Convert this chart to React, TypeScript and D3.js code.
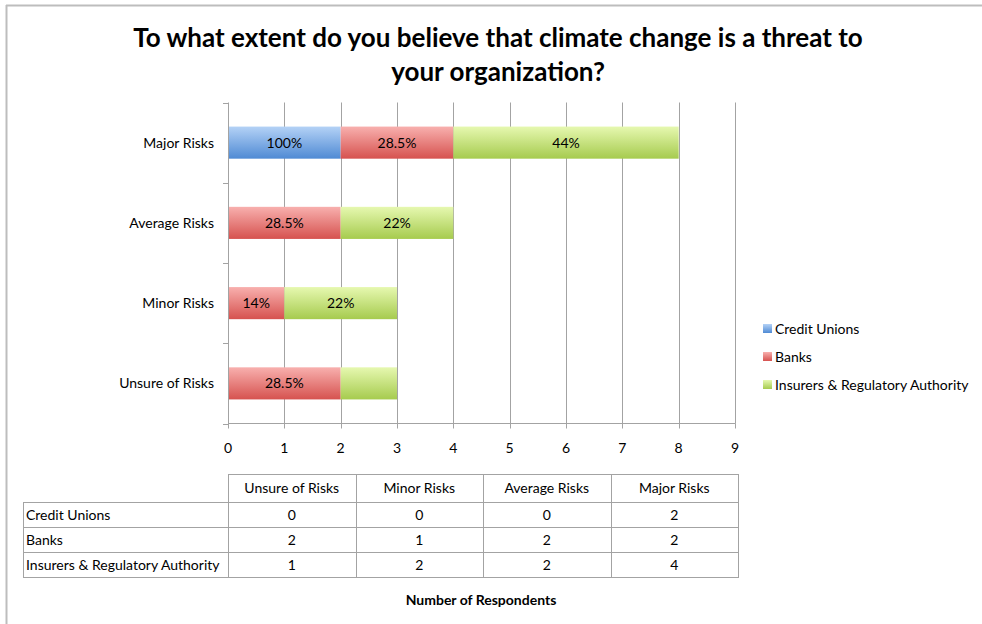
import React from "react";
import * as d3 from "d3";

const categories = ["Major Risks", "Average Risks", "Minor Risks", "Unsure of Risks"];
const tableColumns = ["Unsure of Risks", "Minor Risks", "Average Risks", "Major Risks"];
const seriesNames = ["Credit Unions", "Banks", "Insurers & Regulatory Authority"];

// respondent counts per category, in the order of `categories`
const creditUnions = [2, 0, 0, 0];
const banks = [2, 2, 1, 2];
const insurers = [4, 2, 2, 1];

// percentage labels shown inside each segment ("" = no label)
const creditUnionLabels = ["100%", "", "", ""];
const bankLabels = ["28.5%", "28.5%", "14%", "28.5%"];
const insurerLabels = ["44%", "22%", "22%", ""];

const xTicks = [0, 1, 2, 3, 4, 5, 6, 7, 8, 9];

const FONT = "Lato, 'Open Sans', sans-serif";
const FS = 14;

const palettes = [
  { top: "#b4d2f6", bottom: "#4f8ad4", id: "gBlue" },
  { top: "#f8b0ae", bottom: "#d6524f", id: "gRed" },
  { top: "#e6f8b0", bottom: "#a6cb4e", id: "gGreen" },
];

export default function App() {
  const W = 982;
  const H = 624;
  const x0 = 228;
  const x1 = 735;
  const yTop = 102.5;
  const yBottom = 423.5;

  const x = d3.scaleLinear().domain([0, 9]).range([x0, x1]);
  const y = d3.scaleBand().domain(categories).range([yTop, yBottom]).paddingInner(0.6).paddingOuter(0.3);
  const bandEdges = d3.range(categories.length + 1).map((i) => yTop + (i * (yBottom - yTop)) / categories.length);

  const series = [creditUnions, banks, insurers];
  const labels = [creditUnionLabels, bankLabels, insurerLabels];
  const rows = categories.map((c, i) => {
    const r: any = { cat: c };
    seriesNames.forEach((s, k) => (r[s] = series[k][i]));
    return r;
  });
  const stacked = d3.stack<any>().keys(seriesNames)(rows);

  const grid = "#a3a3a3";

  // table geometry
  const colEdges = [23, 228, 355.5, 483, 610.5, 738];
  const rowEdges = [474, 502, 527, 552, 577];
  const tableRows = seriesNames.map((s, k) =>
    tableColumns.map((c) => series[k][categories.indexOf(c)])
  );

  return (
    <svg width={W} height={H} style={{ position: "absolute", left: 0, top: 0, background: "#fff" }} fontFamily={FONT}>
      <defs>
        {palettes.map((p) => (
          <linearGradient key={p.id} id={p.id} x1="0" y1="0" x2="0" y2="1">
            <stop offset="0" stopColor={p.top} />
            <stop offset="1" stopColor={p.bottom} />
          </linearGradient>
        ))}
      </defs>

      {/* frame */}
      <line x1={6} x2={W} y1={5.5} y2={5.5} stroke="#bdbdbd" strokeWidth={2} />
      <line x1={6.5} x2={6.5} y1={5} y2={H} stroke="#bdbdbd" strokeWidth={2} />

      {/* title */}
      <text x={498} y={47} textAnchor="middle" fontSize={26} fontWeight="bold" fill="#000">
        To what extent do you believe that climate change is a threat to
      </text>
      <text x={498} y={81} textAnchor="middle" fontSize={26} fontWeight="bold" fill="#000">
        your organization?
      </text>

      {/* vertical gridlines */}
      {xTicks.slice(1).map((t) => (
        <line key={t} x1={Math.round(x(t)) + 0.5} x2={Math.round(x(t)) + 0.5} y1={yTop} y2={yBottom} stroke={grid} strokeWidth={1} />
      ))}

      {/* bars */}
      {stacked.map((layer, k) =>
        layer.map((d, i) => {
          const w = x(d[1]) - x(d[0]);
          if (w <= 0) return null;
          const yy = y(categories[i])!;
          const lab = labels[k][i];
          return (
            <g key={`${k}-${i}`}>
              <rect x={x(d[0])} y={yy} width={w} height={y.bandwidth()} fill={`url(#${palettes[k].id})`} />
              {lab && (
                <text x={x(d[0]) + w / 2} y={yy + y.bandwidth() / 2 + 5} textAnchor="middle" fontSize={FS} fill="#000">
                  {lab}
                </text>
              )}
            </g>
          );
        })
      )}

      {/* axes */}
      <line x1={x0 + 0.5} x2={x0 + 0.5} y1={yTop} y2={yBottom} stroke={grid} />
      {bandEdges.map((e, i) => (
        <line key={i} x1={x0 - 5} x2={x0} y1={Math.round(e) + 0.5} y2={Math.round(e) + 0.5} stroke={grid} />
      ))}
      <line x1={x0} x2={x1 + 0.5} y1={yBottom} y2={yBottom} stroke={grid} />
      {xTicks.map((t) => (
        <g key={t}>
          <line x1={Math.round(x(t)) + 0.5} x2={Math.round(x(t)) + 0.5} y1={yBottom} y2={yBottom + 5} stroke={grid} />
          <text x={x(t)} y={453} textAnchor="middle" fontSize={FS} fill="#000">
            {t}
          </text>
        </g>
      ))}

      {/* category labels */}
      {categories.map((c) => (
        <text key={c} x={214} y={y(c)! + y.bandwidth() / 2 + 5} textAnchor="end" fontSize={FS} fill="#000">
          {c}
        </text>
      ))}

      {/* legend */}
      {seriesNames.map((s, k) => (
        <g key={s} transform={`translate(763, ${324 + k * 28})`}>
          <rect x={0} y={0} width={9} height={9} fill={`url(#${palettes[k].id})`} />
          <text x={12} y={10} fontSize={FS} fill="#000">
            {s}
          </text>
        </g>
      ))}

      {/* data table */}
      <g stroke={grid} strokeWidth={1} fill="none">
        <rect x={colEdges[1] + 0.5} y={rowEdges[0] + 0.5} width={colEdges[5] - colEdges[1]} height={rowEdges[4] - rowEdges[0]} />
        <rect x={colEdges[0] + 0.5} y={rowEdges[1] + 0.5} width={colEdges[1] - colEdges[0]} height={rowEdges[4] - rowEdges[1]} />
        {colEdges.slice(2, 5).map((cx, i) => (
          <line key={i} x1={Math.round(cx) + 0.5} x2={Math.round(cx) + 0.5} y1={rowEdges[0]} y2={rowEdges[4]} />
        ))}
        {rowEdges.slice(1, 4).map((ry, i) => (
          <line key={i} x1={colEdges[0]} x2={colEdges[5]} y1={ry + 0.5} y2={ry + 0.5} />
        ))}
      </g>
      {tableColumns.map((c, j) => (
        <text key={c} x={(colEdges[j + 1] + colEdges[j + 2]) / 2} y={(rowEdges[0] + rowEdges[1]) / 2 + 5} textAnchor="middle" fontSize={FS} fill="#000">
          {c}
        </text>
      ))}
      {seriesNames.map((s, k) => (
        <g key={s}>
          <text x={colEdges[0] + 3} y={(rowEdges[k + 1] + rowEdges[k + 2]) / 2 + 5} fontSize={FS} fill="#000">
            {s}
          </text>
          {tableRows[k].map((v, j) => (
            <text key={j} x={(colEdges[j + 1] + colEdges[j + 2]) / 2} y={(rowEdges[k + 1] + rowEdges[k + 2]) / 2 + 5} textAnchor="middle" fontSize={FS} fill="#000">
              {v}
            </text>
          ))}
        </g>
      ))}

      <text x={481} y={605} textAnchor="middle" fontSize={14} fontWeight="bold" fill="#000">
        Number of Respondents
      </text>
    </svg>
  );
}
